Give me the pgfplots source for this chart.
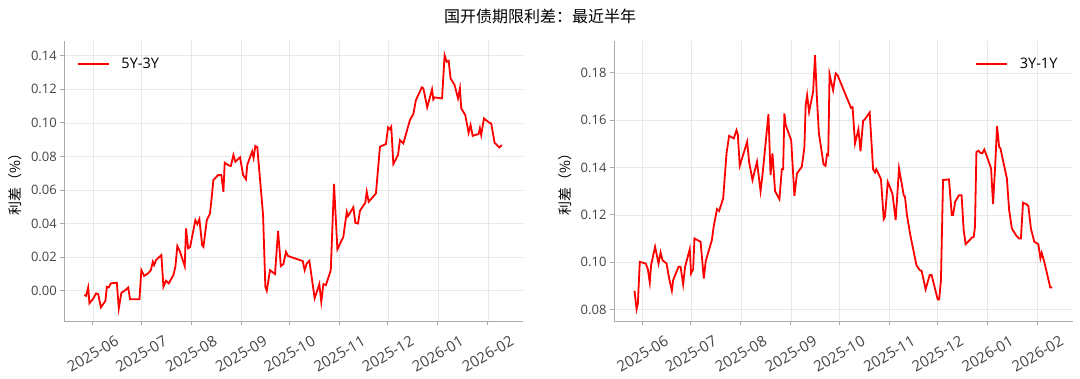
\documentclass[border=0pt]{standalone}
\usepackage{fontspec}
\setmainfont{Open Sans}
\newfontfamily\cjk{Noto Sans CJK SC}
\usepackage{pgfplots}
\usepackage{pgfplotstable}
\pgfplotsset{compat=1.18}
\definecolor{tickgray}{HTML}{444444}
\definecolor{spinegray}{HTML}{AAAAAA}
\definecolor{gridgray}{HTML}{E8E8E8}
\definecolor{linered}{HTML}{FF0000}

\pgfplotstableread{
d v
-5.4 -0.0026
-4.2 -0.0030
-2.9 0.0020
-2.1 -0.0075
0.4 -0.0045
2.0 -0.0016
3.3 -0.0020
5.0 -0.0099
7.8 -0.0060
8.7 0.0024
9.9 0.0020
11.2 0.0044
14.9 0.0048
16.1 -0.0105
17.7 -0.0012
20.2 0.0004
21.9 0.0020
23.1 -0.0051
28.9 -0.0051
30.1 0.0123
31.8 0.0088
34.3 0.0104
36.0 0.0123
37.2 0.0173
38.0 0.0153
39.2 0.0183
42.5 0.0213
43.8 0.0024
45.4 0.0060
47.1 0.0044
50.0 0.0094
51.2 0.0143
52.4 0.0266
54.1 0.0232
57.0 0.0147
57.8 0.0372
59.1 0.0253
60.3 0.0259
63.6 0.0421
64.8 0.0397
66.1 0.0427
67.8 0.0272
68.6 0.0262
70.7 0.0421
72.7 0.0461
74.8 0.0660
77.7 0.0689
79.7 0.0689
81.0 0.0590
81.8 0.0763
83.9 0.0749
85.6 0.0743
87.2 0.0809
88.4 0.0769
91.3 0.0795
93.2 0.0690
95.0 0.0664
95.8 0.0750
98.8 0.0830
99.7 0.0792
100.8 0.0863
102.0 0.0856
105.6 0.0451
107.0 0.0024
107.9 0.0000
109.9 0.0123
112.0 0.0107
113.0 0.0100
114.9 0.0357
116.6 0.0147
118.2 0.0159
119.8 0.0232
121.1 0.0207
130.2 0.0177
131.4 0.0123
132.7 0.0163
134.3 0.0179
137.6 -0.0045
140.5 0.0040
141.7 -0.0066
143.0 0.0040
144.6 0.0034
147.6 0.0123
149.6 0.0636
151.7 0.0247
155.4 0.0322
157.5 0.0471
158.3 0.0445
161.6 0.0497
162.8 0.0405
164.5 0.0401
165.7 0.0477
169.0 0.0524
169.9 0.0590
171.1 0.0530
175.6 0.0580
178.1 0.0858
181.8 0.0874
183.1 0.0973
184.3 0.0962
185.1 0.0977
186.4 0.0755
189.3 0.0809
190.5 0.0898
192.6 0.0878
196.7 0.1017
198.8 0.1053
200.4 0.1136
204.1 0.1212
205.0 0.1206
207.4 0.1093
210.4 0.1200
211.2 0.1140
212.0 0.1152
216.6 0.1146
218.2 0.1403
219.5 0.1364
220.7 0.1370
221.9 0.1265
224.4 0.1226
226.5 0.1146
227.7 0.1206
228.5 0.1087
231.0 0.1047
233.1 0.0941
234.3 0.0987
235.6 0.0923
239.3 0.0934
240.1 0.0968
240.9 0.0928
242.6 0.1027
245.9 0.1001
247.1 0.0997
249.2 0.0882
252.1 0.0854
253.7 0.0868
}\spreadA

\pgfplotstableread{
d v
-5.0 0.0879
-3.7 0.0801
-2.9 0.0825
-1.7 0.1001
2.0 0.0994
3.3 0.0970
4.5 0.0914
5.3 0.0987
7.8 0.1065
9.9 0.0994
11.2 0.1041
12.4 0.1008
14.9 0.0994
16.5 0.0931
18.2 0.0879
19.0 0.0924
22.3 0.0980
23.6 0.0980
25.2 0.0906
26.4 0.0980
29.3 0.1055
30.1 0.0952
31.4 0.0970
32.2 0.1100
36.0 0.1086
38.0 0.0931
39.2 0.1004
40.9 0.1044
43.0 0.1093
44.2 0.1153
46.2 0.1224
47.5 0.1216
50.0 0.1269
52.1 0.1460
53.7 0.1534
56.6 0.1523
58.3 0.1558
59.1 0.1540
60.3 0.1407
64.9 0.1509
66.1 0.1424
68.2 0.1347
71.0 0.1424
73.2 0.1300
74.4 0.1368
78.1 0.1626
79.4 0.1368
80.6 0.1460
82.2 0.1300
84.9 0.1266
86.4 0.1393
87.2 0.1393
88.0 0.1629
88.8 0.1579
92.2 0.1516
94.2 0.1280
95.8 0.1375
98.8 0.1403
100.4 0.1487
101.2 0.1664
102.1 0.1706
103.3 0.1635
105.8 0.1720
107.0 0.1875
108.2 0.1689
109.4 0.1544
112.3 0.1413
113.5 0.1407
114.4 0.1455
115.2 0.1452
116.0 0.1794
118.2 0.1727
119.8 0.1798
121.0 0.1790
129.3 0.1652
130.3 0.1655
131.8 0.1502
133.9 0.1562
135.2 0.1469
136.8 0.1596
138.0 0.1605
140.9 0.1633
143.0 0.1393
144.2 0.1379
145.0 0.1393
147.9 0.1351
149.6 0.1182
150.4 0.1192
152.1 0.1339
155.0 0.1290
157.0 0.1178
159.1 0.1396
162.0 0.1283
162.8 0.1276
164.0 0.1199
166.1 0.1114
169.9 0.0987
171.9 0.0966
173.1 0.0963
175.6 0.0885
178.1 0.0945
179.3 0.0945
183.1 0.0842
184.0 0.0842
185.1 0.0924
186.4 0.1347
190.1 0.1350
191.8 0.1199
192.6 0.1199
193.9 0.1255
196.3 0.1283
197.9 0.1283
199.2 0.1135
200.4 0.1076
202.9 0.1093
204.2 0.1104
205.4 0.1106
206.2 0.1149
207.1 0.1466
208.3 0.1471
209.6 0.1462
210.8 0.1460
212.0 0.1476
213.7 0.1445
216.2 0.1396
217.4 0.1245
218.7 0.1403
219.9 0.1575
221.2 0.1487
222.0 0.1481
224.0 0.1417
226.0 0.1354
227.4 0.1220
229.1 0.1142
231.6 0.1114
233.5 0.1100
234.7 0.1100
236.0 0.1251
238.1 0.1245
239.3 0.1237
240.9 0.1142
243.0 0.1086
245.5 0.1076
246.8 0.1016
247.6 0.1039
249.2 0.1001
252.9 0.0893
254.2 0.0893
}\spreadB

\pgfplotsset{
  mystyle/.style={
    scale only axis, width=458.5pt, height=280pt,
    anchor=south west,
    axis x line*=bottom, axis y line*=left,
    axis line style={spinegray, line width=0.9pt},
    grid=major, grid style={gridgray, line width=0.6pt},
    tick align=outside, major tick length=4pt,
    tick style={spinegray, line width=0.9pt},
    xmin=-17.7, xmax=266.7,
    xtick={0,30,61,92,122,153,183,214,245},
    xticklabels={2025-06,2025-07,2025-08,2025-09,2025-10,2025-11,2025-12,2026-01,2026-02},
    xticklabel style={yshift=-29pt, rotate=30, anchor=center, font=\fontsize{15}{17}\selectfont, text=tickgray},
    /pgf/number format/assume math mode=true,
    yticklabel style={font=\fontsize{13}{15}\selectfont, text=tickgray,
      /pgf/number format/fixed, /pgf/number format/fixed zerofill, /pgf/number format/precision=2},
    ylabel={利差（\%）},
    ylabel style={at={(axis description cs:-0.107,0.5)}, anchor=center, font=\fontsize{14}{16}\selectfont\cjk, text=black},
    legend style={draw=none, fill=none, inner sep=0pt, outer sep=0pt, font=\fontsize{14.5}{16}\selectfont,
      nodes={inner sep=0pt}},
    legend image code/.code={\draw[#1] (0pt,0pt) -- (31pt,0pt); \path (43pt,0pt);},
  }
}

\begin{document}
\begin{tikzpicture}
\path[use as bounding box] (0,0) rectangle (1080pt,379pt);
\node[font=\fontsize{16}{19}\selectfont\cjk, text=black] at (540pt,363pt) {国开债期限利差：最近半年};

\begin{axis}[mystyle, at={(64.3pt,58pt)},
  ymin=-0.018, ymax=0.1488,
  ytick={0,0.02,0.04,0.06,0.08,0.10,0.12,0.14},
  legend style={at={(axis description cs:0.027,0.918)}, anchor=west}]
\addplot[linered, line width=1.8pt] table[x=d, y=v] {\spreadA};
\addlegendentry{5Y-3Y}
\end{axis}

\begin{axis}[mystyle, at={(614pt,58pt)},
  ymin=0.0751, ymax=0.1935,
  ytick={0.08,0.10,0.12,0.14,0.16,0.18},
  legend style={at={(axis description cs:0.967,0.918)}, anchor=east}]
\addplot[linered, line width=1.8pt] table[x=d, y=v] {\spreadB};
\addlegendentry{3Y-1Y}
\end{axis}
\end{tikzpicture}
\end{document}
